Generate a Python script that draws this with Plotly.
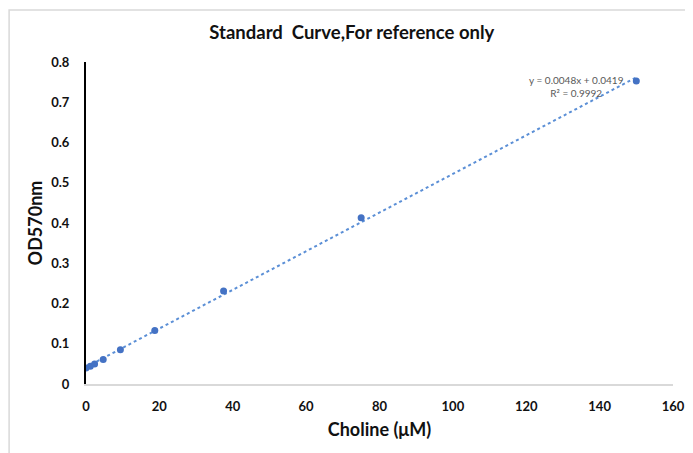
import numpy as np
import plotly.graph_objects as go

# Data
choline_um = [0, 1.17, 2.34, 4.69, 9.375, 18.75, 37.5, 75, 150]
od570 = [0.040, 0.044, 0.050, 0.061, 0.085, 0.133, 0.231, 0.413, 0.753]
slope = 0.0048
intercept = 0.0419
r_squared = 0.9992
x_ticks = [0, 20, 40, 60, 80, 100, 120, 140, 160]
y_ticks = [0, 0.1, 0.2, 0.3, 0.4, 0.5, 0.6, 0.7, 0.8]

FONT = "Lato, 'Open Sans', sans-serif"
BLUE = "#4472C4"

W, H = 685, 445  # page has an 8px body margin

trend_x = np.array([min(choline_um), max(choline_um)])
trend_y = slope * trend_x + intercept

fig = go.Figure()
fig.add_trace(go.Scatter(
    x=trend_x, y=trend_y, mode="lines",
    line=dict(color="#5B8FD6", width=2, dash="dot"),
    hoverinfo="skip", showlegend=False))
fig.add_trace(go.Scatter(
    x=choline_um, y=od570, mode="markers",
    marker=dict(color=BLUE, size=7),
    showlegend=False))

fig.add_annotation(
    x=133.6, y=0.738, xref="x", yref="y",
    text=f"y = {slope}x + {intercept}<br>R² = {r_squared}",
    showarrow=False, align="center",
    font=dict(family=FONT, size=10, color="#595959"))

# outer chart border
fig.add_shape(type="rect", xref="paper", yref="paper",
              x0=-0.131, x1=1.2, y0=-0.4, y1=1.1615,
              line=dict(color="#D9D9D9", width=1.5), layer="above")

fig.update_layout(
    width=W, height=H,
    margin=dict(l=78, r=20, t=54, b=69, autoexpand=False),
    paper_bgcolor="white", plot_bgcolor="white",
    title=dict(text="<b>Standard  Curve,For reference only</b>",
               x=0.502, xref="container", xanchor="center",
               y=1 - 25 / H, yref="container", yanchor="middle",
               font=dict(family=FONT, size=18.5, color="#111111")),
    xaxis=dict(range=[0, 160], tickvals=x_ticks,
               ticktext=[f"<b>{v}</b>" for v in x_ticks],
               showgrid=False, zeroline=False,
               showline=True, linecolor="#D9D9D9", linewidth=1.5,
               ticks="", ticklabelstandoff=10, automargin=False,
               tickfont=dict(family=FONT, size=13, color="#111111"),
               title=dict(text="<b>Choline (μM)</b>", standoff=10,
                          font=dict(family=FONT, size=18, color="#111111"))),
    yaxis=dict(range=[0, 0.8], tickvals=y_ticks,
               ticktext=[f"<b>{v:g}</b>" for v in y_ticks],
               showgrid=False, zeroline=False,
               showline=True, linecolor="black", linewidth=2,
               ticks="", ticklabelstandoff=12, automargin=False,
               tickfont=dict(family=FONT, size=13, color="#111111"),
               title=dict(text="<b>OD570nm</b>", standoff=4,
                          font=dict(family=FONT, size=18, color="#111111"))),
)

fig.write_html("out.html")
